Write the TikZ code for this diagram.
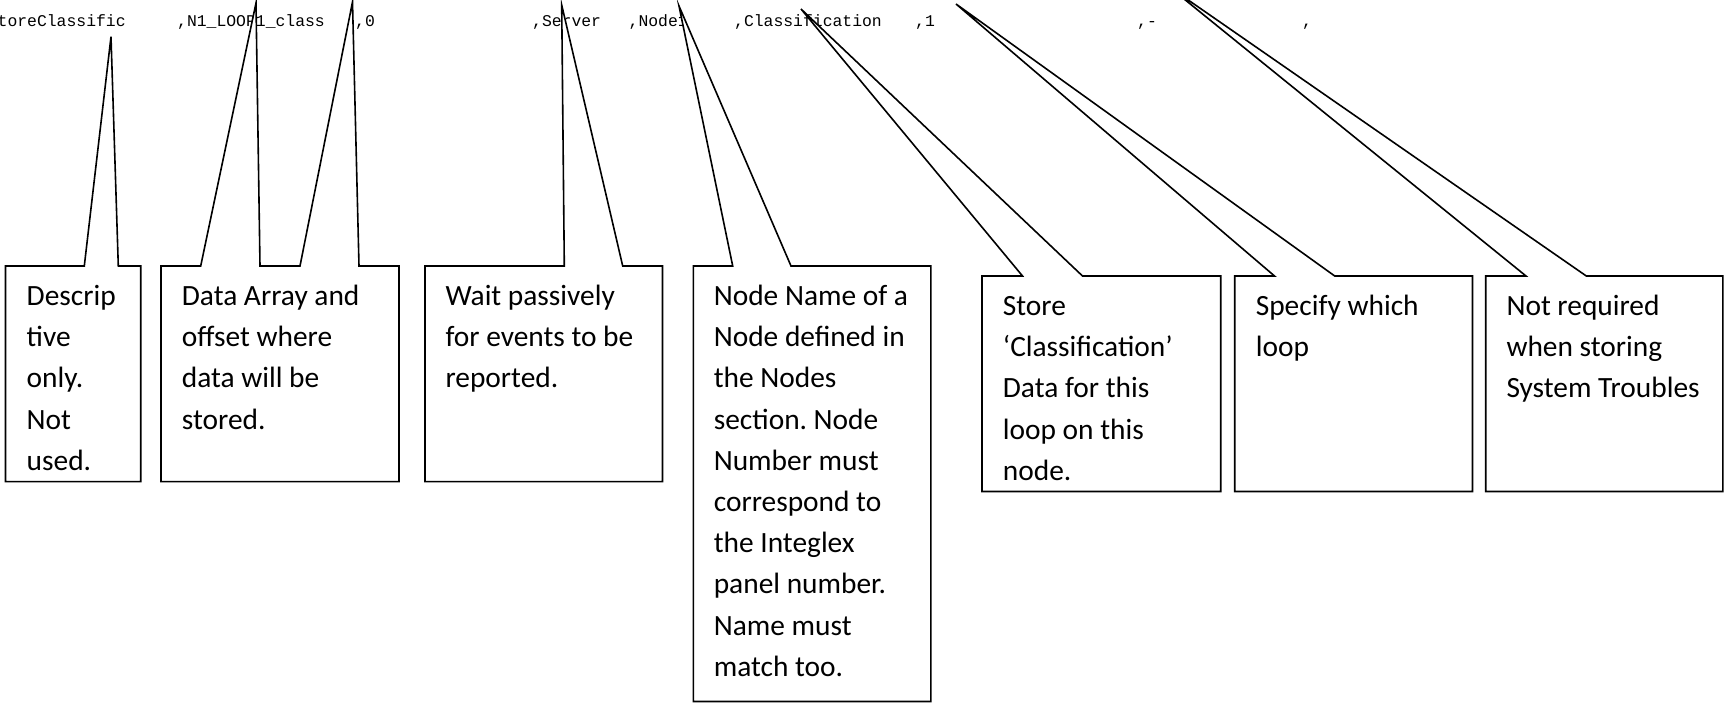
\documentclass[tikz,border=0pt]{standalone}
\usepackage{fontspec}
\setmainfont{Carlito}
\newfontfamily\codefont{Liberation Mono}
\frenchspacing
\newcommand{\boxlines}[1]{\begin{tabular}[t]{@{}l@{}}#1\end{tabular}}
\begin{document}
\begin{tikzpicture}[x=1pt,y=-1pt,
  code/.style={font=\codefont\fontsize{16.4}{18}\selectfont, anchor=base west, inner sep=0pt},
  txt/.style={font=\fontsize{29.4}{41.2}\selectfont, anchor=base west, inner sep=0pt},
  callout/.style={draw=black, fill=white, line width=1.6pt}]
\useasboundingbox (0,0) rectangle (1724,703);
\clip (0,0) rectangle (1724,703);
% code line
\node[code] (t0) at (-2.5,27) {toreClassific};
\node[code] (t1) at (177,27) {,N1\_LOOP1\_class};
\node[code] (t2) at (355,27) {,0};
\node[code] (t3) at (532,27) {,Server};
\node[code] (t4) at (628.5,27) {,Node1};
\node[code] (t5) at (734,27) {,Classification};
\node[code] (t6) at (915,27) {,1};
\node[code] (t7) at (1137,27) {,-};
\node[code] (t8) at (1302,27) {,};
% callout tips
\coordinate (c1) at (111,36.7);
\coordinate (c2a) at (256,3);
\coordinate (c2b) at (352.5,2);
\coordinate (c3) at (561.7,5);
\coordinate (c4) at (679,6);
\coordinate (c5) at (801,9);
\coordinate (c6) at (956,4);
\coordinate (c7) at (1168,-14);
% callouts
\draw[callout] (5.5,266) -- (84.3,266) -- (c1) -- (118.3,266) -- (140.7,266) -- (140.7,481.6) -- (5.5,481.6) -- cycle;
\draw[callout] (161,266) -- (200.7,266) -- (c2a) -- (260,266) -- (300,266) -- (c2b) -- (359,266) -- (399,266) -- (399,481.6) -- (161,481.6) -- cycle;
\draw[callout] (425,266) -- (564.3,266) -- (c3) -- (622.7,266) -- (662.5,266) -- (662.5,481.6) -- (425,481.6) -- cycle;
\draw[callout] (693.3,266) -- (732.7,266) -- (c4) -- (791,266) -- (930.8,266) -- (930.8,701.5) -- (693.3,701.5) -- cycle;
\draw[callout] (982,276) -- (1022.5,276) -- (c5) -- (1082.5,276) -- (1220.7,276) -- (1220.7,491.5) -- (982,491.5) -- cycle;
\draw[callout] (1234.7,276) -- (1274.5,276) -- (c6) -- (1334.7,276) -- (1472.5,276) -- (1472.5,491.5) -- (1234.7,491.5) -- cycle;
\draw[callout] (1485.7,276) -- (1526,276) -- (c7) -- (1586.3,276) -- (1722.8,276) -- (1722.8,491.5) -- (1485.7,491.5) -- cycle;
% texts
\node[txt] (b1) at (26.5,305.5) {\boxlines{Descrip\\tive\\only.\\Not\\used.}};
\node[txt] (b2) at (181.7,305.5) {\boxlines{Data Array and\\offset where\\data will be\\stored.}};
\node[txt] (b3) at (445.3,305.5) {\boxlines{Wait passively\\for events to be\\reported.}};
\node[txt] (b4) at (713.6,305.5) {\boxlines{Node Name of a\\Node defined in\\the Nodes\\section. Node\\Number must\\correspond to\\the Integlex\\panel number.\\Name must\\match too.}};
\node[txt] (b5) at (1002.7,315.5) {\boxlines{Store\\‘Classification’\\Data for this\\loop on this\\node.}};
\node[txt] (b6) at (1255.6,315.5) {\boxlines{Specify which\\loop}};
\node[txt] (b7) at (1506.3,315.5) {\boxlines{Not required\\when storing\\System Troubles}};
\end{tikzpicture}
\end{document}
